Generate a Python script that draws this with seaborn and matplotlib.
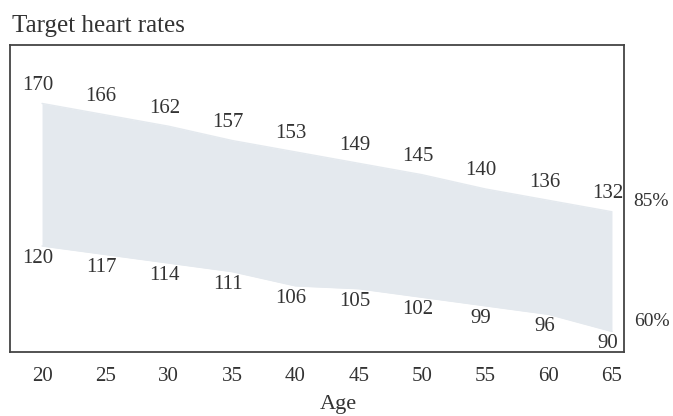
import pandas as pd
import matplotlib.pyplot as plt
import seaborn as sns

# values
ages = [20, 25, 30, 35, 40, 45, 50, 55, 60, 65]
rate_85 = [170, 166, 162, 157, 153, 149, 145, 140, 136, 132]
rate_60 = [120, 117, 114, 111, 106, 105, 102, 99, 96, 90]
zone_names = ['85%', '60%']

sns.set_theme(style='white')
plt.rcParams['font.family'] = ['Liberation Serif', 'DejaVu Serif']
text_color = '#333333'

df = pd.DataFrame({'Age': ages, zone_names[0]: rate_85, zone_names[1]: rate_60})
long_df = df.melt(id_vars='Age', var_name='Zone', value_name='Rate')

fig = plt.figure(figsize=(6.73, 4.16), dpi=100)
ax = fig.add_axes([10 / 673, 1 - 352 / 416, 614 / 673, 307 / 416])

# shaded target zone between the two lines
band_color = '#e4e9ee'
ax.fill_between(df['Age'], df[zone_names[0]], df[zone_names[1]],
                color=band_color, lw=0)
sns.lineplot(data=long_df, x='Age', y='Rate', hue='Zone',
             palette=[band_color, band_color], legend=False, ax=ax, lw=1)

# value labels above the 85% edge and below the 60% edge
for a, v in zip(ages, rate_85):
    ax.annotate(str(v), xy=(a, v), xytext=(-3, 13), textcoords='offset points',
                ha='center', va='center', fontsize=15, color=text_color)
for a, v in zip(ages, rate_60):
    ax.annotate(str(v), xy=(a, v), xytext=(-3, -9), textcoords='offset points',
                ha='center', va='center', fontsize=15, color=text_color)

# zone names to the right of the frame
for name, v in zip(zone_names, [rate_85[-1], rate_60[-1]]):
    ax.annotate(name, xy=(1, v), xycoords=ax.get_yaxis_transform(),
                xytext=(7, 7.5), textcoords='offset points',
                ha='left', va='center', fontsize=14, color=text_color)

ax.set_xlim(17.47, 65.95)
ax.set_ylim(82.8, 190.5)
ax.set_xticks(ages)
ax.set_yticks([])
ax.tick_params(axis='x', length=0, pad=11, labelsize=15, labelcolor=text_color)
ax.set_ylabel('')
ax.set_xlabel('Age', fontsize=16, color=text_color)
ax.xaxis.label.set_va('center')
ax.xaxis.set_label_coords((338 - 10) / 614, -(404 - 352) / 307)

for s in ax.spines.values():
    s.set_visible(True)
    s.set_color('#444444')
    s.set_linewidth(1.3)

fig.text(12 / 673, 1 - 32 / 416, 'Target heart rates', ha='left', va='baseline',
         fontsize=18, color=text_color)

fig.savefig('out.png', dpi=100)
